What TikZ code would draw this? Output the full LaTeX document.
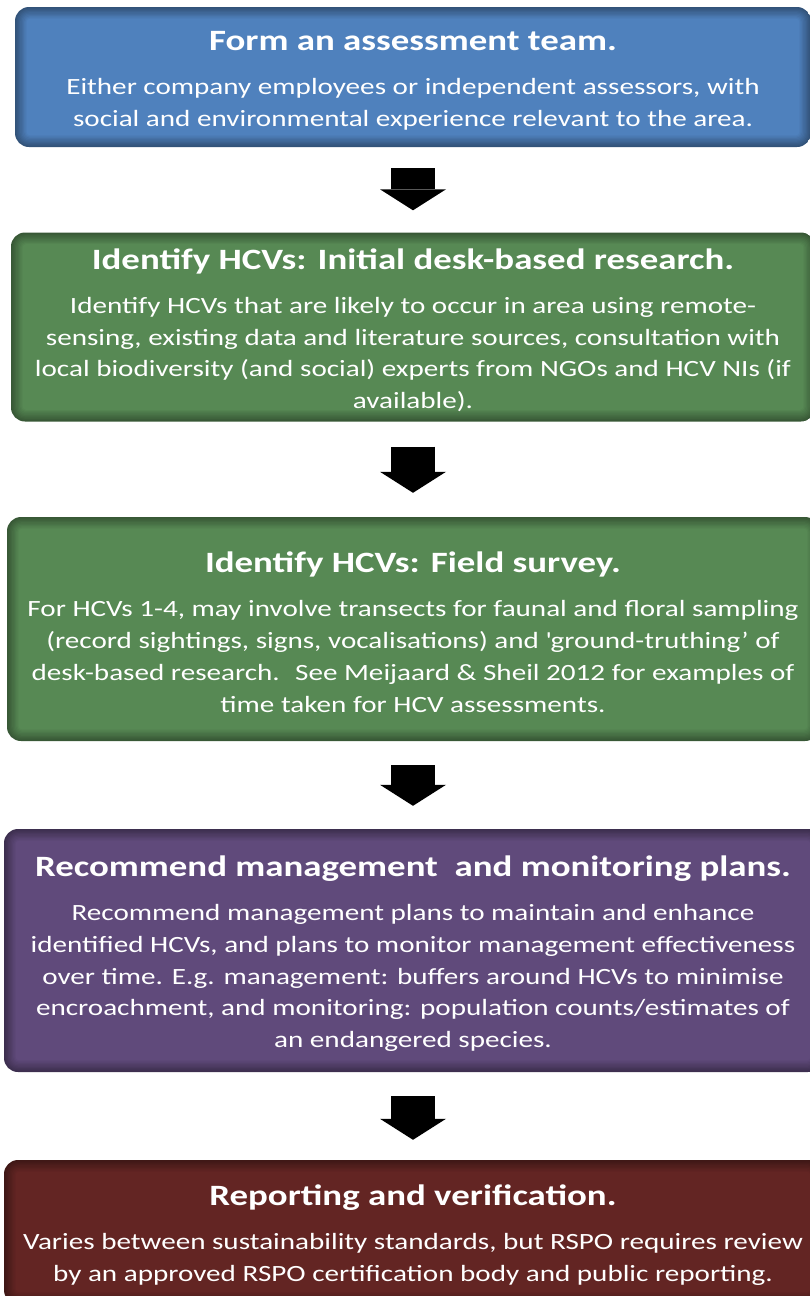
\documentclass[tikz,border=0pt]{standalone}
\usepackage{fontspec}
\setmainfont{Carlito}[FakeStretch=1.25]
\usetikzlibrary{arrows.meta}

\definecolor{teamblue}{HTML}{4F81BD}
\definecolor{hcvgreen}{HTML}{578954}
\definecolor{planpurple}{HTML}{604A7B}
\definecolor{reportred}{HTML}{632523}

\newcommand{\boxtitle}[1]{{\fontsize{29.5}{36}\selectfont\bfseries\rule{0pt}{27pt}#1}\\[12.5pt]}

\tikzset{
  stepbox/.style={rounded corners=14pt, align=center, text=white, inner sep=0pt,
    font=\fontsize{23.3}{31.8}\selectfont,
    % darker rim fading into the fill colour
    path picture={
      \foreach \k in {0,...,9}{
        \pgfmathsetmacro\tone{64+4*\k}
        \pgfmathsetmacro\ins{1.3*\k}
        \pgfmathsetmacro\rad{14-1.2*\k}
        \fill[#1!\tone!black, rounded corners=\rad pt]
          ([shift={(\ins pt,-\ins pt)}]path picture bounding box.north west) rectangle
          ([shift={(-\ins pt,\ins pt)}]path picture bounding box.south east);
      }
    }},
  flow/.style={line width=44pt, black,
    -{Triangle[length=21pt, width=66pt, line width=0pt]},
    shorten <=21pt, shorten >=22pt}
}

\begin{document}
\begin{tikzpicture}[x=1pt, y=-1pt]
\useasboundingbox (0,0) rectangle (810,1296);
\clip (0,0) rectangle (810,1296);

\node[stepbox=teamblue, minimum width=796pt, minimum height=140pt] (team) at (413,77)
  {\boxtitle{Form an assessment team.}
   Either company employees or independent assessors, with\\
   social and environmental experience relevant to the area.};

\node[stepbox=hcvgreen, minimum width=804pt, minimum height=189pt] (desk) at (413,327)
  {\boxtitle{Identify HCVs: Initial desk-based research.}
   Identify HCVs that are likely to occur in area using remote-\\
   sensing, existing data and literature sources, consultation with\\
   local biodiversity (and social) experts from NGOs and HCV NIs (if\\
   available).};

\node[stepbox=hcvgreen, minimum width=812pt, minimum height=224pt] (field) at (413,629)
  {\boxtitle{Identify HCVs: Field survey.}
   For HCVs 1-4, may involve transects for faunal and floral sampling\\
   (record sightings, signs, vocalisations) and \textquotesingle ground-truthing’ of\\
   desk-based research.~ See Meijaard \& Sheil 2012 for examples of\\
   time taken for HCV assessments.};

\node[stepbox=planpurple, minimum width=818pt, minimum height=243pt] (plans) at (413,950.5)
  {\boxtitle{Recommend management~ and monitoring plans.}
   Recommend management plans to maintain and enhance\\
   identified HCVs, and plans to monitor management effectiveness\\
   over time. E.g. management: buffers around HCVs to minimise\\
   encroachment, and monitoring: population counts/estimates of\\
   an endangered species.};

\node[stepbox=reportred, minimum width=818pt, minimum height=144pt] (report) at (413,1232)
  {\boxtitle{Reporting and verification.}
   Varies between sustainability standards, but RSPO requires review\\
   by an approved RSPO certification body and public reporting.};

\draw[flow] (team) -- (desk);
\draw[flow, shorten <=25pt, shorten >=24pt] (desk) -- (field);
\draw[flow, shorten <=24pt, shorten >=23pt] (field) -- (plans);
\draw[flow, shorten <=24pt, shorten >=20pt] (plans) -- (report);
\end{tikzpicture}
\end{document}
